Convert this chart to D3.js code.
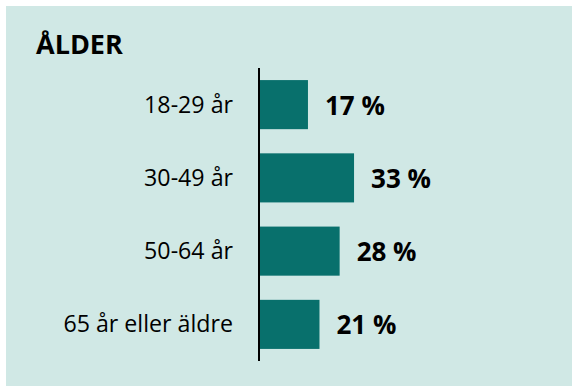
<!DOCTYPE html>
<html>
<head>
<meta charset="utf-8">
<script src="https://cdn.jsdelivr.net/npm/d3@7"></script>
<style>
  html, body { margin: 0; padding: 0; background: #ffffff; }
  svg { display: block; }
</style>
</head>
<body>
<svg id="chart" width="572" height="386"></svg>
<script>
// Age groups and their share in percent
const categories = ["18-29 år", "30-49 år", "50-64 år", "65 år eller äldre"];
const values = [17, 33, 28, 21];
const title = "ÅLDER";

const svg = d3.select("#chart");
const W = 572, H = 386;
const font = "'Open Sans', 'Noto Sans', sans-serif";

// panel background
svg.append("rect")
  .attr("x", 6).attr("y", 6)
  .attr("width", W - 6).attr("height", H - 6)
  .attr("fill", "#d0e8e5");

svg.append("text")
  .attr("x", 36).attr("y", 54)
  .attr("font-family", font)
  .attr("font-weight", 700)
  .attr("font-size", 27)
  .attr("fill", "#000")
  .text(title);

const x0 = 259;
const x = d3.scaleLinear().domain([0, 100]).range([x0, x0 + 288]);
const y = d3.scaleBand().domain(categories).range([68, 361])
  .paddingInner(0.33).paddingOuter(0.165);

svg.selectAll("rect.bar")
  .data(values)
  .join("rect")
  .attr("class", "bar")
  .attr("x", x(0))
  .attr("y", (d, i) => y(categories[i]))
  .attr("width", d => x(d) - x(0))
  .attr("height", y.bandwidth())
  .attr("fill", "#08706c");

// category labels
svg.selectAll("text.cat")
  .data(categories)
  .join("text")
  .attr("class", "cat")
  .attr("x", 233)
  .attr("y", d => y(d) + y.bandwidth() / 2 + 8)
  .attr("text-anchor", "end")
  .attr("font-family", font)
  .attr("font-size", 23.2)
  .attr("fill", "#000")
  .text(d => d);

// value labels
svg.selectAll("text.val")
  .data(values)
  .join("text")
  .attr("class", "val")
  .attr("x", d => x(d) + 17)
  .attr("y", (d, i) => y(categories[i]) + y.bandwidth() / 2 + 10)
  .attr("font-family", font)
  .attr("font-weight", 700)
  .attr("font-size", 26)
  .attr("fill", "#000")
  .text(d => d + " %");

// vertical axis line
svg.append("line")
  .attr("x1", x0).attr("x2", x0)
  .attr("y1", 68).attr("y2", 361)
  .attr("stroke", "#000")
  .attr("stroke-width", 2);
</script>
</body>
</html>
